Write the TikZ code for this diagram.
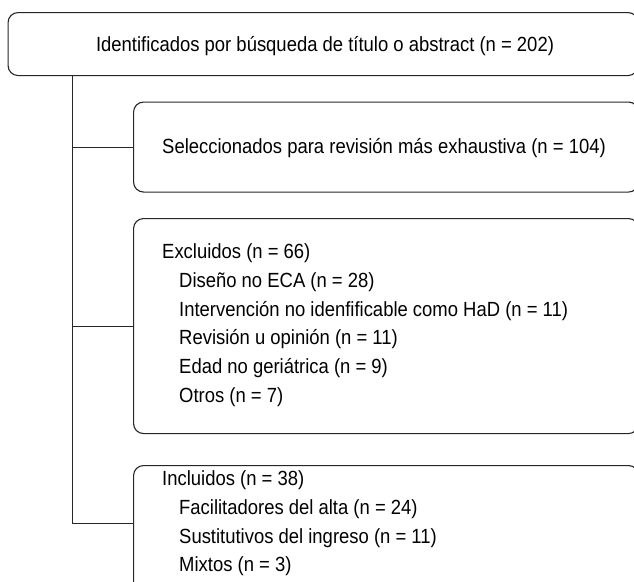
\documentclass[tikz,border=0pt]{standalone}
\usepackage{fontspec}
\setmainfont{Liberation Sans}[FakeStretch=0.9]
\begin{document}
\begin{tikzpicture}[x=1pt,y=-1pt,
  box/.style={draw=black!85,line width=1.1pt,rounded corners=10pt,anchor=north west,inner sep=0pt},
  link/.style={draw=black!85,line width=1.1pt},
  txt/.style={inner sep=0pt,font=\fontsize{20.5}{24}\selectfont,text=black}]
\useasboundingbox (0,0) rectangle (634,581);
\clip (0,0) rectangle (634,581);
% boxes
\node[box,minimum width=630pt,minimum height=63pt] (b1) at (7.5,12) {};
\node[box,minimum width=505pt,minimum height=90pt] (b2) at (133,101.5) {};
\node[box,minimum width=505pt,minimum height=215pt] (b3) at (133,218) {};
\node[box,minimum width=505pt,minimum height=150pt] (b4) at (133,465) {};
% texts
\node[txt,anchor=base] (t1) at (325,51.7) {Identificados por búsqueda de título o abstract (n = 202)};
\node[txt,anchor=base] (t2) at (384,153.3) {Seleccionados para revisión más exhaustiva (n = 104)};
\node[txt,anchor=base west] (e0) at (162,258.5) {Excluidos (n = 66)};
\node[txt,anchor=base west] (e1) at (179,287.3) {Diseño no ECA (n = 28)};
\node[txt,anchor=base west] (e2) at (179,316.1) {Intervención no idenfificable como HaD (n = 11)};
\node[txt,anchor=base west] (e3) at (179,344.9) {Revisión u opinión (n = 11)};
\node[txt,anchor=base west] (e4) at (179,373.7) {Edad no geriátrica (n = 9)};
\node[txt,anchor=base west] (e5) at (179,402.5) {Otros (n = 7)};
\node[txt,anchor=base west] (i0) at (162,485.5) {Incluidos (n = 38)};
\node[txt,anchor=base west] (i1) at (179,514.3) {Facilitadores del alta (n = 24)};
\node[txt,anchor=base west] (i2) at (179,543.1) {Sustitutivos del ingreso (n = 11)};
\node[txt,anchor=base west] (i3) at (179,571.9) {Mixtos (n = 3)};
% connectors
\coordinate (trunk) at (72.3,75);
\coordinate (j4) at (133,523.3);
\draw[link] (trunk |- b1.south) -- (trunk |- j4) -- (j4);
\draw[link] (trunk |- b2.west) -- (b2.west);
\draw[link] (trunk |- b3.west) -- (b3.west);
\end{tikzpicture}
\end{document}
